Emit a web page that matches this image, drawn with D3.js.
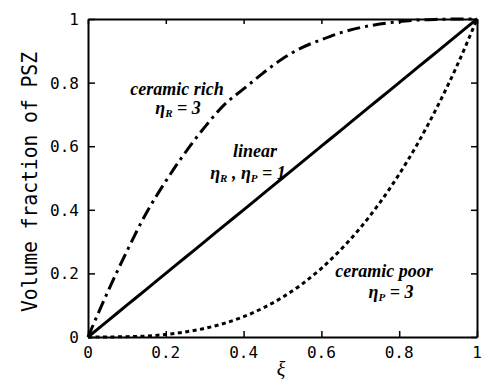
<!DOCTYPE html>
<html>
<head>
<meta charset="utf-8">
<script src="https://cdn.jsdelivr.net/npm/d3@7/dist/d3.min.js"></script>
<style>
  html, body { margin: 0; padding: 0; background: #fff; }
  svg { display: block; }
  .tick-label { font-family: "DejaVu Sans Mono", monospace; font-size: 16px; fill: #000; }
  .note { font-family: "Liberation Serif", "Times New Roman", serif; font-style: italic; font-weight: bold; font-size: 18px; fill: #000; }
</style>
</head>
<body>
<svg id="chart" width="482" height="381"></svg>
<script>
// Non-dimensional coordinate ξ and the PSZ volume fraction for each grading profile
const xi = [0, 0.05, 0.10, 0.15, 0.20, 0.25, 0.30, 0.35, 0.40, 0.45, 0.50,
            0.55, 0.60, 0.65, 0.70, 0.75, 0.80, 0.85, 0.90, 0.95, 1.0];
const linearVals = [0, 0.05, 0.10, 0.15, 0.20, 0.25, 0.30, 0.35, 0.40, 0.45, 0.50,
                    0.55, 0.60, 0.65, 0.70, 0.75, 0.80, 0.85, 0.90, 0.95, 1.0];
const richVals = [0, 0.14, 0.27, 0.39, 0.49, 0.58, 0.66, 0.73, 0.78, 0.83, 0.875,
                  0.91, 0.935, 0.957, 0.973, 0.984, 0.992, 0.997, 0.999, 1.0, 1.0];
const poorVals = [0, 0.0001, 0.001, 0.003, 0.008, 0.016, 0.027, 0.043, 0.064, 0.091, 0.125,
                  0.166, 0.216, 0.275, 0.343, 0.422, 0.512, 0.614, 0.729, 0.857, 1.0];
const xTicks = [0, 0.2, 0.4, 0.6, 0.8, 1];
const yTicks = [0, 0.2, 0.4, 0.6, 0.8, 1];
const xTickLabels = ["0", "0.2", "0.4", "0.6", "0.8", "1"];
const yTickLabels = ["0", "0.2", "0.4", "0.6", "0.8", "1"];

const svg = d3.select("#chart");
const L = 88, R = 477, T = 19, B = 337;

const x = d3.scaleLinear().domain([0, 1]).range([L, R]);
const y = d3.scaleLinear().domain([0, 1]).range([B, T]);

// Curves
const line = d3.line().x(d => x(d[0])).y(d => y(d[1])).curve(d3.curveMonotoneX);
const series = [
  { vals: linearVals, dash: null },
  { vals: richVals, dash: "13,5,3,5" },
  { vals: poorVals, dash: "4,3.5" }
];
series.forEach(s => {
  const p = svg.append("path")
    .datum(xi.map((v, i) => [v, s.vals[i]]))
    .attr("d", line)
    .attr("fill", "none")
    .attr("stroke", "#000")
    .attr("stroke-width", 3);
  if (s.dash) p.attr("stroke-dasharray", s.dash);
});

// Frame with inward ticks on all four sides
const axisStyle = g => {
  g.select(".domain").attr("stroke", "#000").attr("stroke-width", 2);
  g.selectAll(".tick line").attr("stroke", "#000").attr("stroke-width", 1.5);
  g.selectAll(".tick text").remove();
};
svg.append("g").attr("transform", `translate(0,${B})`)
  .call(d3.axisBottom(x).tickValues(xTicks).tickSizeInner(-6).tickSizeOuter(0)).call(axisStyle);
svg.append("g").attr("transform", `translate(0,${T})`)
  .call(d3.axisTop(x).tickValues(xTicks).tickSizeInner(-5).tickSizeOuter(0)).call(axisStyle);
svg.append("g").attr("transform", `translate(${L},0)`)
  .call(d3.axisLeft(y).tickValues(yTicks).tickSizeInner(-7).tickSizeOuter(0)).call(axisStyle);
svg.append("g").attr("transform", `translate(${R},0)`)
  .call(d3.axisRight(y).tickValues(yTicks).tickSizeInner(-6).tickSizeOuter(0)).call(axisStyle);

// Tick labels
svg.selectAll(".xl").data(xTicks).enter().append("text")
  .attr("class", "tick-label")
  .attr("x", d => x(d)).attr("y", 358)
  .attr("text-anchor", "middle")
  .text((d, i) => xTickLabels[i]);
svg.selectAll(".yl").data(yTicks).enter().append("text")
  .attr("class", "tick-label")
  .attr("x", 79).attr("y", d => y(d) + 6)
  .attr("text-anchor", "end")
  .text((d, i) => yTickLabels[i]);

// Axis titles
svg.append("text")
  .attr("transform", "translate(37,182) rotate(-90)")
  .attr("text-anchor", "middle")
  .attr("font-family", "DejaVu Sans Mono, monospace")
  .attr("font-size", 21)
  .attr("textLength", 260)
  .attr("lengthAdjust", "spacingAndGlyphs")
  .text("Volume fraction of PSZ");
svg.append("text")
  .attr("x", 281).attr("y", 376)
  .attr("text-anchor", "middle")
  .attr("font-family", "Liberation Serif, serif")
  .attr("font-style", "italic")
  .attr("font-size", 20)
  .text("ξ");

// Curve annotations
function note(cx, by, parts) {
  const t = svg.append("text").attr("class", "note")
    .attr("x", cx).attr("y", by).attr("text-anchor", "middle");
  parts.forEach(p => {
    const s = t.append("tspan").text(p.t);
    if (p.sub) s.attr("font-size", 11).attr("dy", 3);
    if (p.up) s.attr("dy", -3);
  });
}
note(177, 95, [{ t: "ceramic rich" }]);
note(178, 114, [{ t: "η" }, { t: "R", sub: true }, { t: " = 3", up: true }]);
note(255, 157, [{ t: "linear" }]);
note(248, 179, [{ t: "η" }, { t: "R", sub: true }, { t: " , η", up: true }, { t: "P", sub: true }, { t: " = 1", up: true }]);
note(384, 277, [{ t: "ceramic poor" }]);
note(391, 298, [{ t: "η" }, { t: "P", sub: true }, { t: " = 3", up: true }]);
</script>
</body>
</html>
